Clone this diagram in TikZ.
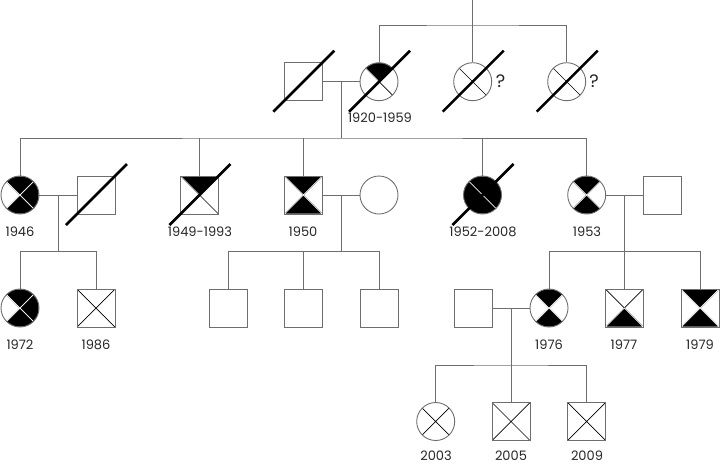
\documentclass[tikz,border=0pt]{standalone}
\usepackage{fontspec}
\setmainfont{Poppins}
\usetikzlibrary{shapes.geometric}

\definecolor{linegray}{RGB}{110,110,110}

\tikzset{
  person/.style={draw=linegray,line width=0.9pt,minimum size=38pt,inner sep=0pt},
  male/.style={person,rectangle},
  female/.style={person,circle},
  quadfill/.style={fill=black,draw=white,line width=0.7pt},
  quads/.style n args={4}{path picture={
      \coordinate (q-nw) at (path picture bounding box.north west);
      \coordinate (q-ne) at (path picture bounding box.north east);
      \coordinate (q-se) at (path picture bounding box.south east);
      \coordinate (q-sw) at (path picture bounding box.south west);
      \coordinate (q-c) at (path picture bounding box.center);
      \draw[black,line width=0.7pt] (q-nw) -- (q-se) (q-ne) -- (q-sw);
      \path[quadfill,opacity=#1] (q-nw) -- (q-ne) -- (q-c) -- cycle;
      \path[quadfill,opacity=#2] (q-ne) -- (q-se) -- (q-c) -- cycle;
      \path[quadfill,opacity=#3] (q-se) -- (q-sw) -- (q-c) -- cycle;
      \path[quadfill,opacity=#4] (q-sw) -- (q-nw) -- (q-c) -- cycle;
    }},
  crossed/.style={quads={0}{0}{0}{0}},
  dead/.style={append after command={([shift={(-30,30)}]\tikzlastnode.center)
      edge[black,line width=2.6pt] ([shift={(31,-31)}]\tikzlastnode.center)}},
  year/.style={font=\fontsize{13}{15}\selectfont,text=black!85,inner sep=0pt,
      text height=9pt,text depth=0pt},
  unknown/.style={font=\fontsize{18}{20}\selectfont,text=black!85,inner sep=0pt},
  link/.style={linegray,line width=0.9pt}
}

\begin{document}
\begin{tikzpicture}[x=1pt,y=-1pt]

            \useasboundingbox (0,0) rectangle (720,464);

            % generation I
            \path   (303.3,81.7) node (a) [male,dead] {}
                    (379,81.7) node (b) [female,quads={1}{0}{0}{0},dead] {}
                    (472.7,81.7) node (c) [female,crossed,dead] {}
                    (566.7,81.7) node (d) [female,crossed,dead] {};

            % generation II
            \path   (20,195) node (e) [female,quads={1}{1}{1}{0}] {}
                    (96,195) node (f) [male,dead] {}
                    (199.5,195) node (g) [male,quads={1}{0}{0}{0},dead] {}
                    (303.3,195) node (h) [male,quads={1}{0}{1}{0}] {}
                    (379,195) node (i) [female] {}
                    (482.5,195) node (j) [female,quads={1}{1}{1}{1},dead] {}
                    (586.7,195) node (k) [female,quads={1}{0}{1}{0}] {}
                    (662,195) node (l) [male] {};

            % generation III
            \path   (20,308) node (m) [female,quads={1}{1}{1}{0}] {}
                    (96,308) node (n) [male,crossed] {}
                    (228,308) node (o) [male] {}
                    (303.3,308) node (p) [male] {}
                    (379,308) node (q) [male] {}
                    (473.3,308) node (r) [male] {}
                    (549,308) node (s) [female,quads={1}{0}{1}{0}] {}
                    (624.3,308) node (t) [male,quads={0}{0}{1}{0}] {}
                    (700,308) node (u) [male,quads={1}{0}{1}{0}] {};

            % generation IV
            \path   (435.7,421.5) node (v) [female,crossed] {}
                    (511,421.5) node (w) [male,crossed] {}
                    (586.7,421.5) node (x) [male,crossed] {};

            % years
            \path   (380,118) node (y-b) [year] {1920-1959}
                    (500.5,81) node (y-c) [unknown] {?}
                    (594,81) node (y-d) [unknown] {?}
                    (20,232) node (y-e) [year] {1946}
                    (200,232) node (y-g) [year] {1949-1993}
                    (303,232) node (y-h) [year] {1950}
                    (483,232) node (y-j) [year] {1952-2008}
                    (587,232) node (y-k) [year] {1953}
                    (20,345) node (y-m) [year] {1972}
                    (96,345) node (y-n) [year] {1986}
                    (549,345) node (y-s) [year] {1976}
                    (624,345) node (y-t) [year] {1977}
                    (700,345) node (y-u) [year] {1979}
                    (436,455.5) node (y-v) [year] {2003}
                    (511,455.5) node (y-w) [year] {2005}
                    (587,455.5) node (y-x) [year] {2009};

            \coordinate (top) at (472.7,0);
            \coordinate (top-kids) at (472.7,25);
            \coordinate (ab) at (341,81.7);
            \coordinate (ab-kids) at (341,138);
            \coordinate (ef) at (58.3,195);
            \coordinate (ef-kids) at (58.3,251.7);
            \coordinate (hi) at (341,195);
            \coordinate (hi-kids) at (341,251.7);
            \coordinate (kl) at (624.3,195);
            \coordinate (kl-kids) at (624.3,251.7);
            \coordinate (rs) at (511,308);
            \coordinate (rs-kids) at (511,365);

            \draw[link] (c) -- (top);
            \draw[link] (b) |- (top-kids) -| (d);
            \draw[link] (a) -- (b);
            \draw[link] (ab) -- (ab-kids);
            \draw[link] (e) |- (ab-kids) -| (k);
            \draw[link] (g) -- (g |- ab-kids);
            \draw[link] (h) -- (h |- ab-kids);
            \draw[link] (j) -- (j |- ab-kids);
            \draw[link] (e) -- (f);
            \draw[link] (ef) -- (ef-kids);
            \draw[link] (m) |- (ef-kids) -| (n);
            \draw[link] (h) -- (i);
            \draw[link] (hi) -- (hi-kids);
            \draw[link] (o) |- (hi-kids) -| (q);
            \draw[link] (p) -- (p |- hi-kids);
            \draw[link] (k) -- (l);
            \draw[link] (kl) -- (t);
            \draw[link] (s) |- (kl-kids) -| (u);
            \draw[link] (r) -- (s);
            \draw[link] (rs) -- (w);
            \draw[link] (v) |- (rs-kids) -| (x);

\end{tikzpicture}
\end{document}
